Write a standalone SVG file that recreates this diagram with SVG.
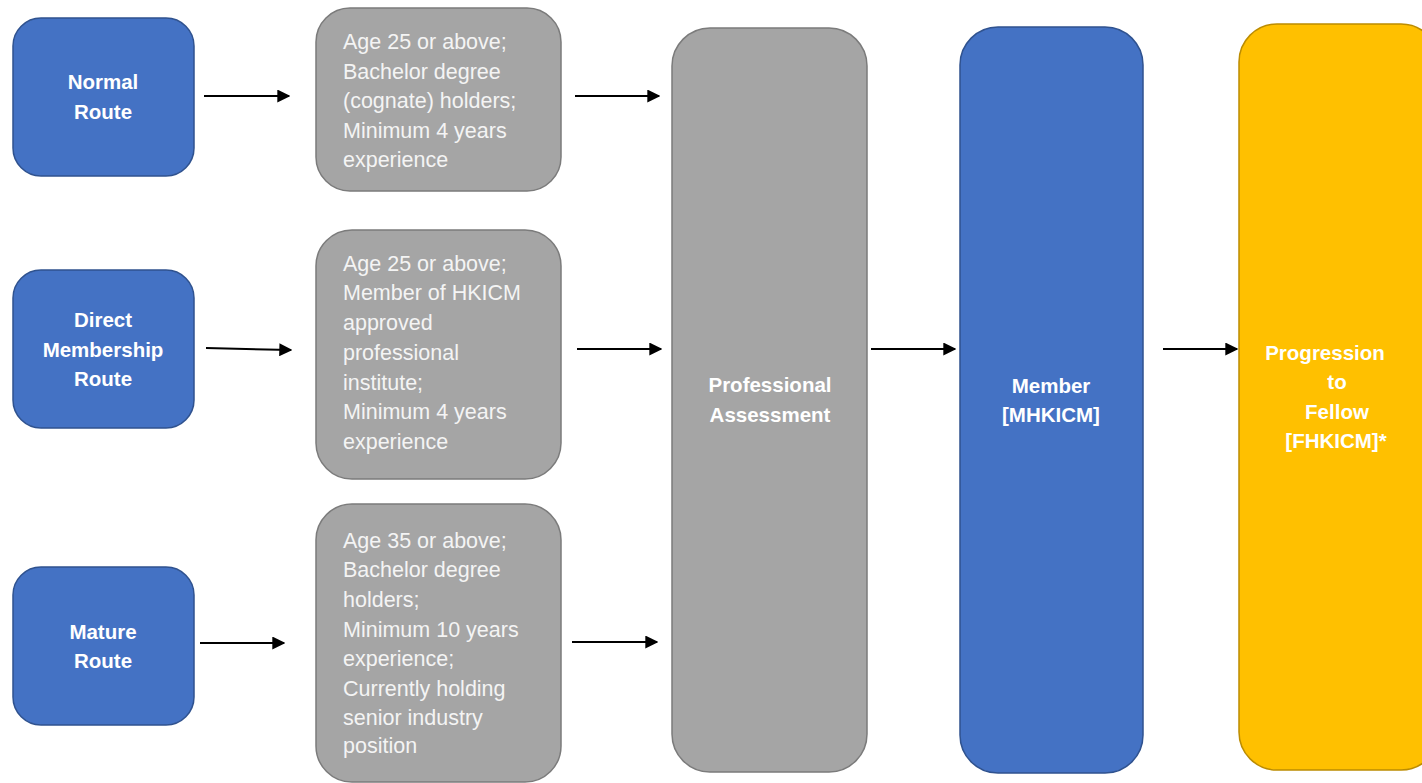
<svg xmlns="http://www.w3.org/2000/svg" width="1422" height="783" viewBox="0 0 1422 783">
<style>
.blue{fill:#4472C4;stroke:#2F528F;stroke-width:1.5}
.gray{fill:#A5A5A5;stroke:#7B7B7B;stroke-width:1.5}
.gold{fill:#FFC000;stroke:#BC8C00;stroke-width:1.5}
.lbl{font-family:"Liberation Sans",Arial,sans-serif;font-weight:bold;font-size:20.5px;fill:#fff;text-anchor:middle}
.txt{font-family:"Liberation Sans",Arial,sans-serif;font-size:21.5px;fill:#f4f4f4}
.conn{stroke:#000;stroke-width:2;fill:none;marker-end:url(#ah)}
</style>
<defs>
<marker id="ah" viewBox="0 0 10 10" refX="9" refY="5" markerWidth="6.5" markerHeight="6.5" orient="auto" markerUnits="strokeWidth">
<path d="M0,0 L10,5 L0,10 Z" fill="#000"/>
</marker>
</defs>
<rect width="1422" height="783" fill="#fff"/>
<g id="normal">
<rect class="blue" x="13" y="18" width="181" height="158" rx="28"/>
<text class="lbl" x="103" y="89">Normal</text>
<text class="lbl" x="103" y="119">Route</text>
</g>
<g id="direct">
<rect class="blue" x="13" y="270" width="181" height="158" rx="28"/>
<text class="lbl" x="103" y="327">Direct</text>
<text class="lbl" x="103" y="357">Membership</text>
<text class="lbl" x="103" y="386">Route</text>
</g>
<g id="mature">
<rect class="blue" x="13" y="567" width="181" height="158" rx="28"/>
<text class="lbl" x="103" y="639">Mature</text>
<text class="lbl" x="103" y="668">Route</text>
</g>
<g id="req-normal">
<rect class="gray" x="316" y="8" width="245" height="183" rx="34"/>
<text class="txt" x="343" y="49">Age 25 or above;</text>
<text class="txt" x="343" y="79">Bachelor degree</text>
<text class="txt" x="343" y="108">(cognate) holders;</text>
<text class="txt" x="343" y="138">Minimum 4 years</text>
<text class="txt" x="343" y="167">experience</text>
</g>
<g id="req-direct">
<rect class="gray" x="316" y="230" width="245" height="249" rx="36"/>
<text class="txt" x="343" y="271">Age 25 or above;</text>
<text class="txt" x="343" y="300">Member of HKICM</text>
<text class="txt" x="343" y="330">approved</text>
<text class="txt" x="343" y="360">professional</text>
<text class="txt" x="343" y="390">institute;</text>
<text class="txt" x="343" y="419">Minimum 4 years</text>
<text class="txt" x="343" y="449">experience</text>
</g>
<g id="req-mature">
<rect class="gray" x="316" y="504" width="245" height="278" rx="36"/>
<text class="txt" x="343" y="548">Age 35 or above;</text>
<text class="txt" x="343" y="577">Bachelor degree</text>
<text class="txt" x="343" y="607">holders;</text>
<text class="txt" x="343" y="637">Minimum 10 years</text>
<text class="txt" x="343" y="666">experience;</text>
<text class="txt" x="343" y="696">Currently holding</text>
<text class="txt" x="343" y="725">senior industry</text>
<text class="txt" x="343" y="753">position</text>
</g>
<g id="assessment">
<rect class="gray" x="672" y="28" width="195" height="744" rx="38"/>
<text class="lbl" x="770" y="392">Professional</text>
<text class="lbl" x="770" y="422">Assessment</text>
</g>
<g id="member">
<rect class="blue" x="960" y="27" width="183" height="746" rx="38"/>
<text class="lbl" x="1051" y="393">Member</text>
<text class="lbl" x="1051" y="422">[MHKICM]</text>
</g>
<g id="fellow">
<rect class="gold" x="1239" y="24" width="200" height="746" rx="38"/>
<text class="lbl" x="1325" y="360">Progression</text>
<text class="lbl" x="1337" y="389">to</text>
<text class="lbl" x="1337" y="419">Fellow</text>
<text class="lbl" x="1336" y="448">[FHKICM]*</text>
</g>
<g id="connectors">
<line class="conn" x1="204" y1="96" x2="289" y2="96"/>
<line class="conn" x1="206" y1="348" x2="291" y2="350"/>
<line class="conn" x1="200" y1="643" x2="284" y2="643"/>
<line class="conn" x1="575" y1="96" x2="659" y2="96"/>
<line class="conn" x1="577" y1="349" x2="661" y2="349"/>
<line class="conn" x1="572" y1="642" x2="657" y2="642"/>
<line class="conn" x1="871" y1="349" x2="955" y2="349"/>
<line class="conn" x1="1163" y1="349" x2="1237" y2="349"/>
</g>
</svg>
